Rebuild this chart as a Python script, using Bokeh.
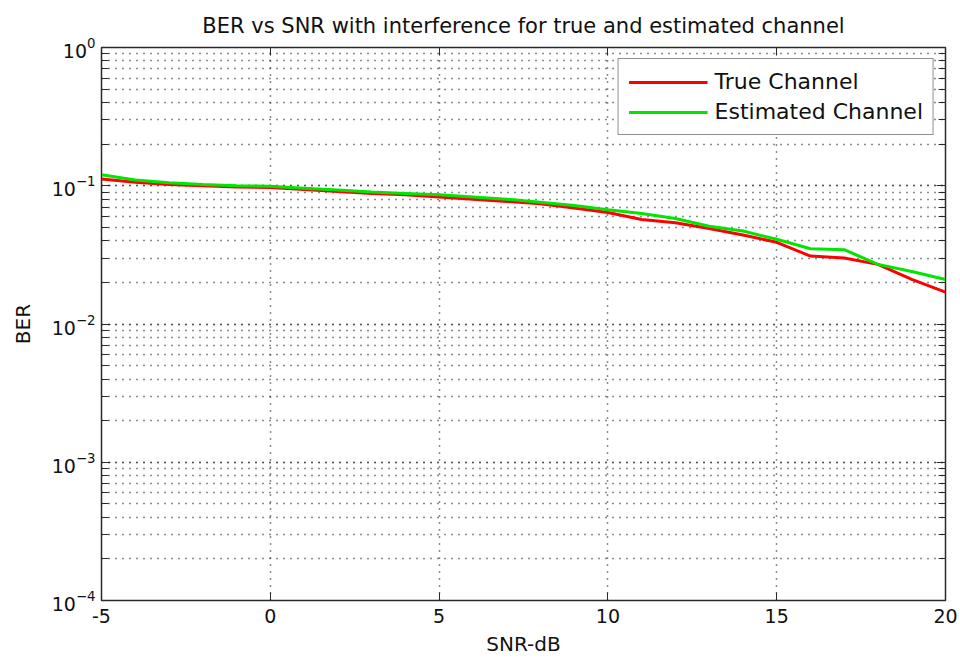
from bokeh.plotting import figure
from bokeh.models import (LogAxis, LinearAxis, LogTicker, FixedTicker,
                          Legend, LegendItem, Range1d, CustomJSTickFormatter,
                          LogTickFormatter)
from bokeh.embed import file_html
from bokeh.resources import INLINE

# SNR sweep (dB) and measured bit error rates
snr_db = [-5, -4, -3, -2, -1, 0, 1, 2, 3, 4, 5, 6, 7, 8, 9, 10,
          11, 12, 13, 14, 15, 16, 17, 18, 19, 20]
ber_true = [0.112, 0.106, 0.102, 0.100, 0.098, 0.097, 0.094, 0.091, 0.088,
            0.086, 0.083, 0.080, 0.077, 0.074, 0.069, 0.064, 0.057, 0.054,
            0.049, 0.044, 0.039, 0.031, 0.030, 0.027, 0.021, 0.017]
ber_est = [0.120, 0.110, 0.105, 0.102, 0.100, 0.099, 0.096, 0.093, 0.090,
           0.088, 0.086, 0.083, 0.080, 0.076, 0.072, 0.067, 0.063, 0.058,
           0.051, 0.047, 0.041, 0.035, 0.0345, 0.027, 0.024, 0.021]

x_ticks = [-5, 0, 5, 10, 15, 20]

FONT = "DejaVu Sans"
AX = "#2a2a2a"

p = figure(width=960, height=660, y_axis_type="log",
           x_range=Range1d(-5, 20), y_range=Range1d(1e-4, 1),
           output_backend="svg", toolbar_location=None,
           min_border_left=101, min_border_right=15,
           min_border_top=47, min_border_bottom=60,
           title="BER vs SNR with interference for true and estimated channel")
p.background_fill_color = "white"
p.border_fill_color = "white"
p.outline_line_color = AX
p.outline_line_width = 1.5

p.title.text_font = FONT
p.title.text_font_size = "21px"
p.title.text_font_style = "normal"
p.title.text_color = "#111"
p.title.align = "center"
p.title.standoff = 19

blank = CustomJSTickFormatter(code="return ''")

# bottom axis
xa = p.xaxis[0]
xa.ticker = FixedTicker(ticks=x_ticks)
xa.formatter = CustomJSTickFormatter(code="return tick.toString()")
xa.major_label_text_font = FONT
xa.major_label_text_font_size = "19px"
xa.major_label_text_color = "#111"
xa.major_label_standoff = 8
xa.major_tick_in = 8
xa.major_tick_out = 0
xa.minor_tick_line_color = None
xa.axis_line_color = AX
xa.major_tick_line_color = AX
xa.axis_label = "SNR-dB"
xa.axis_label_text_font = FONT
xa.axis_label_text_font_size = "20px"
xa.axis_label_text_font_style = "normal"
xa.axis_label_text_color = "#111"
xa.axis_label_standoff = 6

# left log axis with 10^k decade labels
ya = p.yaxis[0]
ya.ticker = LogTicker(num_minor_ticks=10)
ya.formatter = LogTickFormatter(min_exponent=0)
ya.major_label_text_font = FONT
ya.major_label_text_font_size = "19px"
ya.major_label_text_color = "#111"
ya.major_label_standoff = 6
ya.major_tick_in = 9
ya.major_tick_out = 0
ya.minor_tick_in = 7
ya.minor_tick_out = 0
ya.axis_line_color = AX
ya.major_tick_line_color = AX
ya.minor_tick_line_color = AX
ya.axis_label = "BER"
ya.axis_label_text_font = FONT
ya.axis_label_text_font_size = "20px"
ya.axis_label_text_font_style = "normal"
ya.axis_label_text_color = "#111"
ya.axis_label_standoff = 14

# mirrored tick marks on the right and top edges
ra = LogAxis(ticker=LogTicker(num_minor_ticks=10), formatter=blank,
             major_label_standoff=0, major_tick_in=9, major_tick_out=0,
             minor_tick_in=7, minor_tick_out=0, axis_line_color=AX,
             major_tick_line_color=AX, minor_tick_line_color=AX)
p.add_layout(ra, "right")
ta = LinearAxis(ticker=FixedTicker(ticks=x_ticks), formatter=blank,
                major_label_standoff=0, major_tick_in=8, major_tick_out=0,
                minor_tick_line_color=None, axis_line_color=AX,
                major_tick_line_color=AX)
p.add_layout(ta, "above")

# dotted grid, with minor lines on the log axis
for g in (p.xgrid, p.ygrid):
    g.grid_line_color = "#1a1a1a"
    g.grid_line_dash = "1 6"
    g.grid_line_width = 1.5
p.xgrid.ticker = FixedTicker(ticks=x_ticks)
p.ygrid.minor_grid_line_color = "#1a1a1a"
p.ygrid.minor_grid_line_dash = "1 6"
p.ygrid.minor_grid_line_width = 1.5

r_true = p.line(snr_db, ber_true, line_color="#ff0000", line_width=3)
r_est = p.line(snr_db, ber_est, line_color="#00e600", line_width=3)

legend = Legend(items=[LegendItem(label="True Channel", renderers=[r_true]),
                       LegendItem(label="Estimated Channel", renderers=[r_est])],
                location="top_right", margin=11, padding=10, spacing=5,
                glyph_width=79, glyph_height=24, label_height=24,
                label_standoff=7, label_text_font=FONT,
                label_text_font_size="22px", label_text_color="#111",
                border_line_color="#222", border_line_width=1.5,
                background_fill_color="white", background_fill_alpha=1.0)
p.add_layout(legend)

open("out.html", "w").write(file_html(p, INLINE))
